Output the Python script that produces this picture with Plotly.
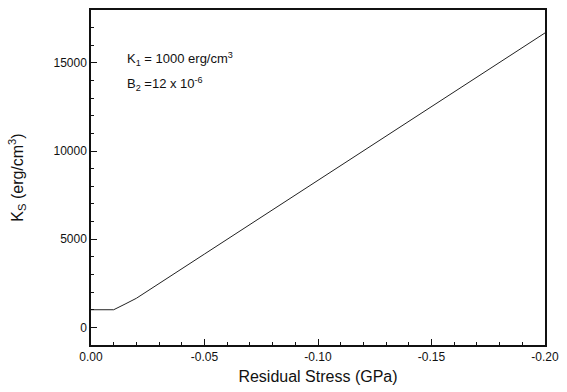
import plotly.graph_objects as go

stress = [0.0, -0.01, -0.015, -0.02, -0.05, -0.10, -0.15, -0.20]
ks = [1000, 1000, 1320, 1650, 4160, 8340, 12520, 16700]

x_ticks = [0.0, -0.05, -0.10, -0.15, -0.20]
x_labels = ["0.00", "-0.05", "-0.10", "-0.15", "-0.20"]
y_ticks = [0, 5000, 10000, 15000]
y_labels = ["0", "5000", "10000", "15000"]

fig = go.Figure()
fig.add_trace(go.Scatter(x=stress, y=ks, mode="lines",
                         line=dict(color="#222", width=1), showlegend=False))

font = "Liberation Sans, Arial, sans-serif"
fig.update_layout(
    width=567, height=392,
    margin=dict(l=91, r=22, t=8, b=47),
    paper_bgcolor="white", plot_bgcolor="white",
    font=dict(family=font, color="#111", size=12),
)
fig.update_xaxes(
    range=[0.0, -0.20], tickvals=x_ticks, ticktext=x_labels,
    ticks="inside", ticklen=6, tickwidth=1, tickcolor="#111",
    minor=dict(dtick=0.01, ticks="inside", ticklen=3, tickcolor="#111", tick0=0),
    showline=True, linecolor="#111", linewidth=1.5, mirror=True,
    showgrid=False, zeroline=False, tickfont=dict(size=12),
    title=dict(text="Residual Stress (GPa)", font=dict(size=16), standoff=8),
)
fig.update_yaxes(
    range=[-1000, 18000], tickvals=y_ticks, ticktext=y_labels,
    ticks="inside", ticklen=6, tickwidth=1, tickcolor="#111",
    minor=dict(dtick=1000, ticks="inside", ticklen=3, tickcolor="#111", tick0=0),
    showline=True, linecolor="#111", linewidth=1.5, mirror=True,
    showgrid=False, zeroline=False, tickfont=dict(size=12),
    title=dict(text="K<sub>S</sub> (erg/cm<sup>3</sup>)", font=dict(size=16), standoff=26),
)
fig.add_annotation(xref="x domain", yref="y domain", x=0.075, y=0.855,
                   xanchor="left", yanchor="middle", showarrow=False,
                   text="K<sub>1</sub> = 1000 erg/cm<sup>3</sup>", font=dict(size=13))
fig.add_annotation(xref="x domain", yref="y domain", x=0.075, y=0.78,
                   xanchor="left", yanchor="middle", showarrow=False,
                   text="B<sub>2</sub> =12 x 10<sup>-6</sup>", font=dict(size=13))

fig.write_html("out.html")
